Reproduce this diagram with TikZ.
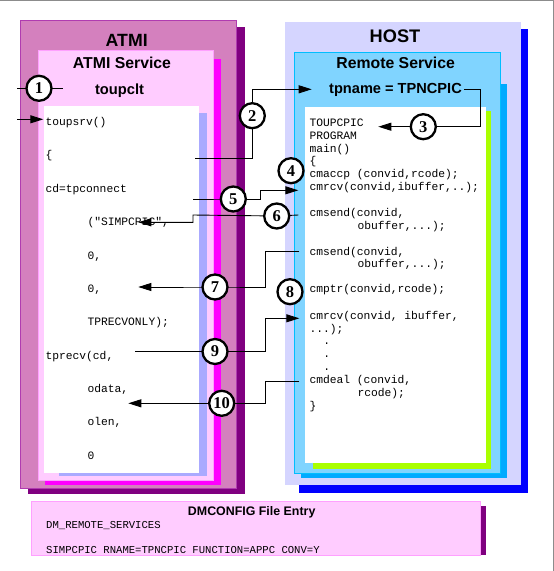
\documentclass[tikz,border=0pt]{standalone}
\usepackage{fontspec}
\setmainfont{Liberation Serif}
\setsansfont{Liberation Sans}
\setmonofont{Liberation Mono}
\usetikzlibrary{arrows.meta}
\pgfdeclarelayer{front}
\pgfsetlayers{main,front}
\definecolor{atmiouter}{RGB}{212,128,190}
\definecolor{atmiborder}{RGB}{176,60,176}
\definecolor{atmishadow}{RGB}{128,0,128}
\definecolor{svcfill}{RGB}{255,204,255}
\definecolor{svcborder}{RGB}{255,160,255}
\definecolor{svcshadow}{RGB}{255,0,255}
\definecolor{codeshadowA}{RGB}{170,170,255}
\definecolor{hostfill}{RGB}{213,213,255}
\definecolor{hostshadow}{RGB}{0,0,255}
\definecolor{remfill}{RGB}{128,212,255}
\definecolor{remborder}{RGB}{0,190,255}
\definecolor{remshadow}{RGB}{0,170,255}
\definecolor{codeshadowB}{RGB}{170,255,0}
\definecolor{framegray}{RGB}{140,140,140}
\begin{document}
\begin{tikzpicture}[x=1pt,y=-1pt,
  code/.style={anchor=base west, inner sep=0pt, font=\ttfamily\fontsize{11.3}{13}\selectfont},
  dotc/.style={anchor=base, inner sep=0pt, font=\ttfamily\fontsize{11.3}{13}\selectfont},
  cfg/.style={anchor=base west, inner sep=0pt, font=\ttfamily\fontsize{10.6}{12}\selectfont},
  ttl/.style={anchor=base, inner sep=0pt, font=\sffamily\bfseries\fontsize{#1}{#1}\selectfont},
  num/.style={circle, draw=black, line width=2.3pt, fill=white, minimum size=25pt, inner sep=0pt,
              font=\rmfamily\bfseries\fontsize{16.5}{16.5}\selectfont},
  conn/.style={line width=0.9pt, black},
  arr/.style={conn, -{Triangle[length=13pt,width=8pt]}}]
\useasboundingbox (0,0) rectangle (554,571);
\fill[white] (0,0) rectangle (554,571);
\draw[framegray, line width=1pt] (0,0.5) -- (553,0.5) -- (553,571);

% ---------- ATMI side ----------
\fill[atmishadow] (28,26.7) rectangle (245,494);
\filldraw[fill=atmiouter, draw=atmiborder, line width=0.8pt] (20.7,20.7) rectangle (236.7,488.3);
\fill[svcshadow] (45,59.3) rectangle (221,485);
\filldraw[fill=svcfill, draw=svcborder, line width=0.8pt] (38.3,50) rectangle (213.3,480.7);
\fill[codeshadowA] (59.3,113.3) rectangle (206.7,475.7);
\fill[white] (44.3,106) rectangle (199,472.7);

\node[ttl=17.7] (atmi) at (126.7,46.7) {ATMI};
\node[ttl=15.8] (atmisvc) at (122,68.3) {ATMI Service};
\node[ttl=14.7] (toupclt) at (119.5,94.3) {toupclt};

\node[code] (a1) at (45.3,125.2) {toupsrv()};
\node[code] (a2) at (45.3,158.6) {\{};
\node[code] (a3) at (45.3,192) {cd=tpconnect};
\node[code] (a4) at (87.3,225.5) {("SIMPCPIC",};
\node[code] (a5) at (87.3,259) {0,};
\node[code] (a6) at (87.3,292.3) {0,};
\node[code] (a7) at (87.3,325.7) {TPRECVONLY);};
\node[code] (a8) at (45.3,359.1) {tprecv(cd,};
\node[code] (a9) at (87.3,392.5) {odata,};
\node[code] (a10) at (87.3,425.9) {olen,};
\node[code] (a11) at (87.3,459.3) {0};

% ---------- HOST side ----------
\fill[hostshadow] (299,29) rectangle (527.7,493.3);
\fill[hostfill] (285,22.3) rectangle (520.7,485);
\fill[remshadow] (301,84.3) rectangle (507.3,477.7);
\filldraw[fill=remfill, draw=remborder, line width=0.8pt] (294.3,52.7) rectangle (500.7,473.3);
\fill[codeshadowB] (312.7,111) rectangle (490.7,469);
\fill[white] (305,106.7) rectangle (485.7,463.3);

\node[ttl=18.2] (host) at (395,42.7) {HOST};
\node[ttl=15.8] (remsvc) at (395.7,68.3) {Remote Service};
\node[ttl=14.6] (tpname) at (395.5,93.3) {tpname = TPNCPIC};

\node[code] (h1) at (309.3,126.8) {TOUPCPIC};
\node[code] (h2) at (309.3,139.5) {PROGRAM};
\node[code] (h3) at (309.3,152.2) {main()};
\node[code] (h4) at (309.3,164.9) {\{};
\node[code] (h5) at (309.3,177.6) {cmaccp (convid,rcode);};
\node[code] (h6) at (309.3,190.3) {cmrcv(convid,ibuffer,..);};
\node[code] (h7) at (309.3,216.8) {cmsend(convid,};
\node[code] (h8) at (357.3,229.2) {obuffer,...);};
\node[code] (h9) at (309.3,255.2) {cmsend(convid,};
\node[code] (h10) at (357.3,267.7) {obuffer,...);};
\node[code] (h11) at (309.3,292.8) {cmptr(convid,rcode);};
\node[code] (h12) at (309.3,319.5) {cmrcv(convid, ibuffer,};
\node[code] (h13) at (309.3,332.2) {...);};
\node[dotc] (d1) at (326.7,344.5) {.};
\node[dotc] (d2) at (326.7,357) {.};
\node[dotc] (d3) at (326.7,370) {.};
\node[code] (h14) at (309.3,383.5) {cmdeal (convid,};
\node[code] (h15) at (357.3,396.8) {rcode);};
\node[code] (h16) at (309.3,409.5) {\}};

% ---------- DMCONFIG ----------
\fill[atmishadow] (40,506) rectangle (485.7,555);
\filldraw[fill=svcfill, draw=svcborder, line width=0.8pt] (31.7,501.7) rectangle (480.7,555);
\node[ttl=12.4] (dmtitle) at (251.7,515.7) {DMCONFIG File Entry};
\node[cfg] (dm1) at (46,528.5) {DM\_REMOTE\_SERVICES};
\node[cfg] (dm2) at (46,553.5) {SIMPCPIC RNAME=TPNCPIC FUNCTION=APPC CONV=Y};

% ---------- numbered circles ----------
\begin{pgfonlayer}{front}
\node[num] (c1) at (39,88.3) {1};
\node[num] (c2) at (252.3,115.7) {2};
\node[num] (c3) at (423.3,126.7) {3};
\node[num] (c4) at (291,170.7) {4};
\node[num] (c5) at (233.3,199) {5};
\node[num] (c6) at (276.7,216) {6};
\node[num] (c7) at (215,287) {7};
\node[num] (c8) at (290,291.7) {8};
\node[num] (c9) at (215,351.5) {9};
\node[num] (c10) at (221.7,403.3) {10};
\end{pgfonlayer}

% ---------- connector end points ----------
\coordinate (p1a) at (17,88.3);
\coordinate (p1b) at (63,88.3);
\coordinate (p1c) at (17,119.3);
\coordinate (p1t) at (43.3,119.3);
\coordinate (p2a) at (195,158.3);
\coordinate (p2t) at (311.7,89.3);
\coordinate (p3a) at (464.3,89.3);
\coordinate (p3b) at (480,126.7);
\coordinate (p3t) at (378.3,126.7);
\coordinate (p5a) at (193.3,199);
\coordinate (p5b) at (260,199);
\coordinate (p5t) at (298.3,190.3);
\coordinate (p6a) at (298.3,215);
\coordinate (p6b) at (193,215);
\coordinate (p6t) at (138.3,222.3);
\coordinate (p7a) at (299.3,251.7);
\coordinate (p7b) at (265,287);
\coordinate (p7t) at (138.3,287);
\coordinate (p9a) at (135,351.5);
\coordinate (p9b) at (265,351.5);
\coordinate (p9t) at (299.3,318.3);
\coordinate (p10a) at (299.3,381.7);
\coordinate (p10b) at (265,403.3);
\coordinate (p10t) at (128.3,403.3);

% ---------- connectors ----------
\draw[conn] (p1a) -- (c1.center) -- (p1b);
\draw[arr] (p1c) -- (p1t);
\draw[arr] (p2a) -| (c2.center) |- (p2t);
\draw[arr] (p3a) -| (p3b) -- (c3.center) -- (p3t);
\draw[arr] (p5a) -- (c5.center) -- (p5b) |- (p5t);
\draw[arr] (p6a) -- (c6.center) -- (p6b) |- (p6t);
\draw[arr] (p7a) -| (p7b) -- (c7.center) -- (p7t);
\draw[arr] (p9a) -- (c9.center) -- (p9b) |- (p9t);
\draw[arr] (p10a) -| (p10b) -- (c10.center) -- (p10t);
\end{tikzpicture}
\end{document}
